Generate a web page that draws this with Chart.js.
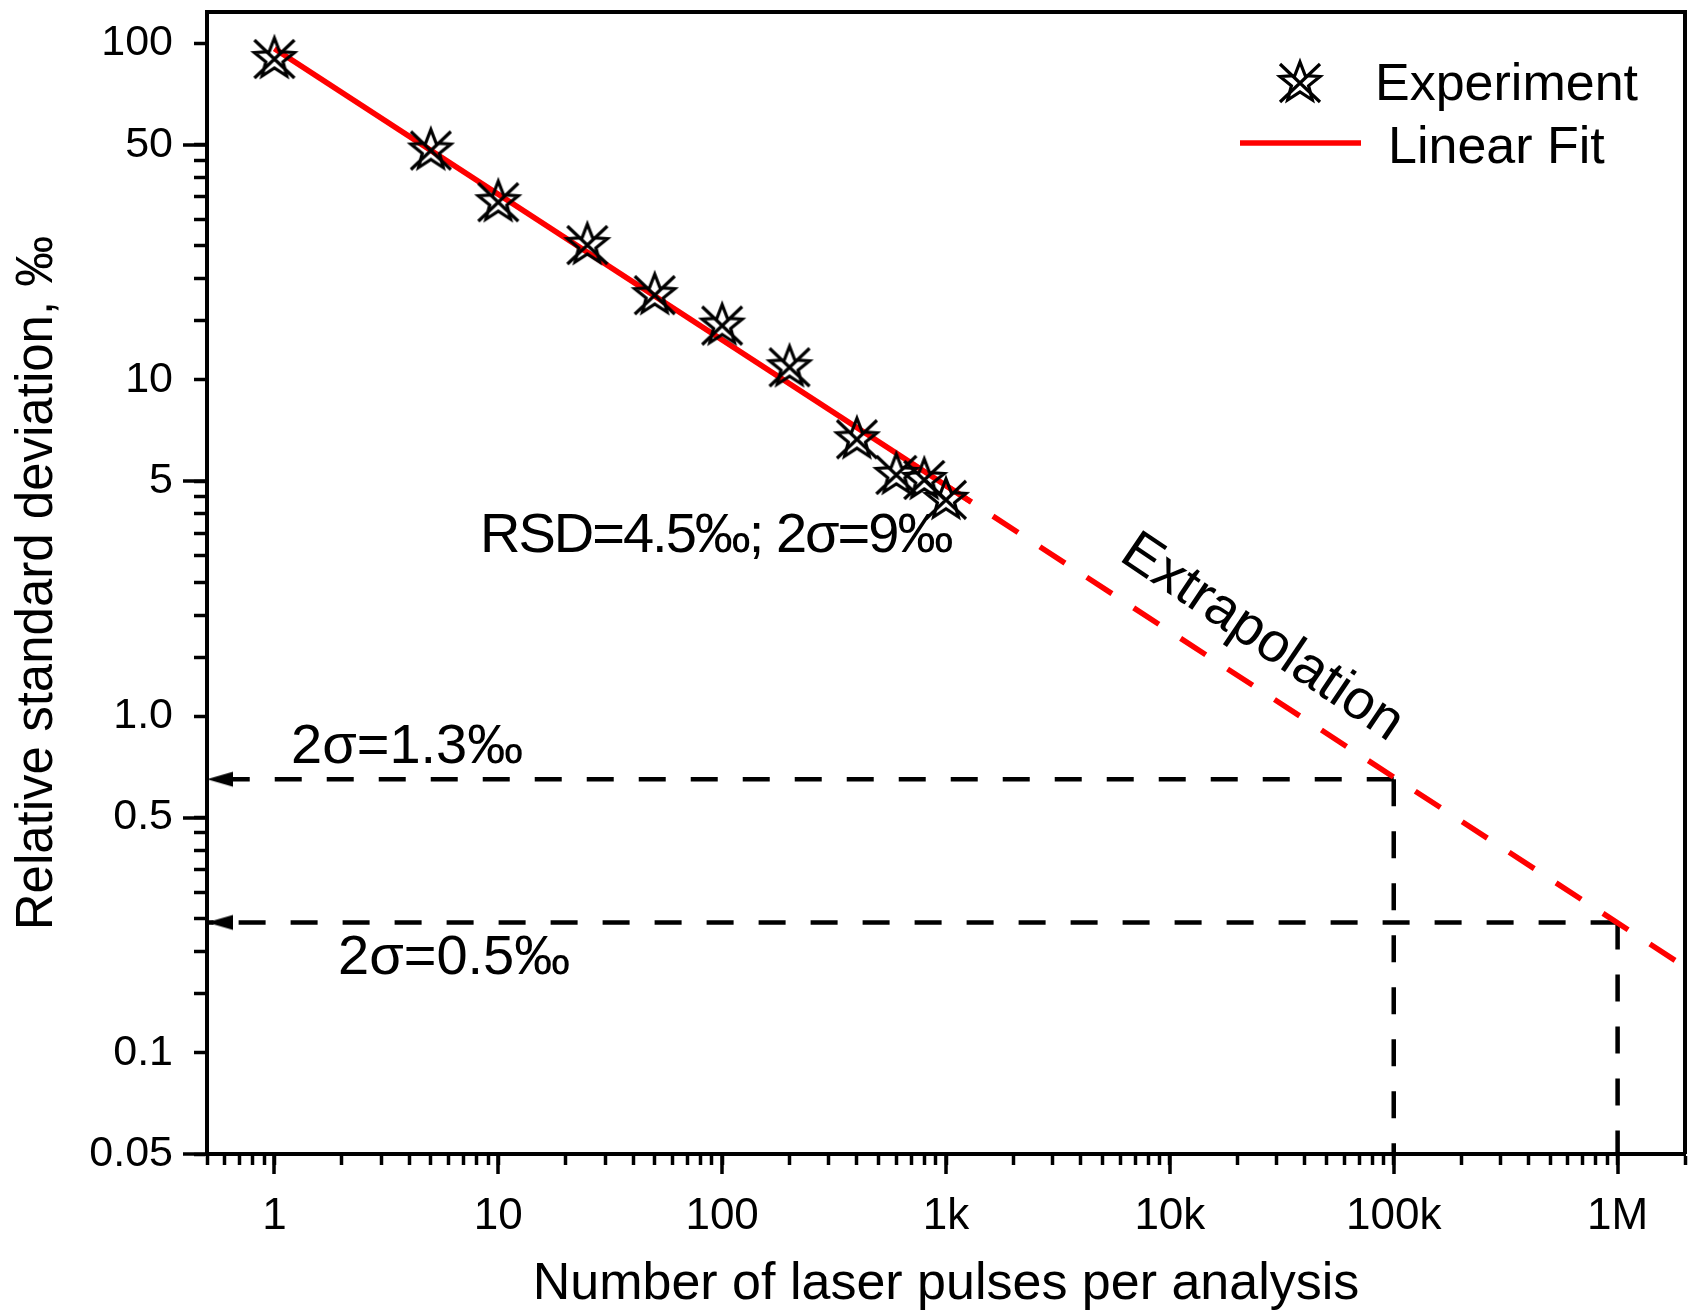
<!DOCTYPE html>
<html>
<head>
<meta charset="utf-8">
<script src="https://cdn.jsdelivr.net/npm/chart.js@4.4.0/dist/chart.umd.min.js"></script>
<style>
    html, body { margin: 0; padding: 0; background: #ffffff; }
    #wrap { width: 1691px; height: 1311px; }
</style>
</head>
<body>
<div id="wrap"><canvas id="rsdChart" width="1691" height="1311"></canvas></div>
<script>
const pulses = [1, 5, 10, 25, 50, 100, 200, 400, 600, 800, 1000];
const rsd = [91.1, 48.7, 34.2, 25.5, 18.1, 14.7, 11.05, 6.75, 5.29, 5.11, 4.46];

// Linear fit in log-log space: solid over the data, dashed extrapolation
const fitX = [1, 1300];
const fitY = [96.5, 4.33];
const extraX = [1000, 2000000];
const extraY = [4.85, 0.180];

// Guide lines: 2σ=1.3‰ (RSD 0.65) reached at 100k, 2σ=0.5‰ (RSD 0.244) at 1M
const guideX = [100000, 1000000];
const guideY = [0.65, 0.244];

const xRange = [0.5, 2000000];
const yRange = [0.05, 124];

// Axis ticks
const xMajor = [1, 10, 100, 1000, 10000, 100000, 1000000];
const xLabels = ['1', '10', '100', '1k', '10k', '100k', '1M'];
const yLabelVals = [100, 50, 10, 5, 1, 0.5, 0.1, 0.05];
const yLabels = ['100', '50', '10', '5', '1.0', '0.5', '0.1', '0.05'];
const yLong = [50, 5, 0.5, 0.05];
const yMinor = [45, 40, 35, 30, 25, 20, 15,
                4.5, 4, 3.5, 3, 2.5, 2, 1.5,
                0.45, 0.4, 0.35, 0.3, 0.25, 0.2, 0.15];

const RED = '#ff0000';
const FONT = '"Liberation Sans", Arial, sans-serif';

function xy(xs, ys) {
    return xs.map((x, i) => ({ x: x, y: ys[i] }));
}

// minor ticks 2..9 per decade on the x axis
function xMinorTicks() {
    const out = [];
    for (let d = 0.1; d <= 1000000; d *= 10) {
        for (let m = 2; m <= 9; m++) {
            const v = +(m * d).toPrecision(6);
            if (v >= xRange[0] && v <= xRange[1]) out.push(v);
        }
    }
    return out;
}

// star + cross marker used by Origin for "Experiment"
function makeStar() {
    const c = document.createElement('canvas');
    c.width = 50; c.height = 50;
    const g = c.getContext('2d');
    g.translate(25, 25);
    g.strokeStyle = '#000';
    g.lineWidth = 3.2;
    g.beginPath();
    for (let i = 0; i < 10; i++) {
        const r = i % 2 === 0 ? 21 : 9;
        const a = -Math.PI / 2 + i * Math.PI / 5;
        g.lineTo(r * Math.cos(a), r * Math.sin(a) + 2);
    }
    g.closePath();
    g.stroke();
    g.beginPath();
    g.moveTo(-20, -17); g.lineTo(20, 21);
    g.moveTo(20, -17); g.lineTo(-20, 21);
    g.stroke();
    return c;
}

// left-pointing arrow head, tip sits at the image centre
function makeArrow() {
    const c = document.createElement('canvas');
    c.width = 56; c.height = 18;
    const g = c.getContext('2d');
    g.fillStyle = '#000';
    g.beginPath();
    g.moveTo(28, 9);
    g.lineTo(54, 1.5);
    g.lineTo(54, 16.5);
    g.closePath();
    g.fill();
    return c;
}

const starImg = makeStar();
const arrowImg = makeArrow();

function guide(points) {
    return {
        data: points,
        showLine: true,
        borderColor: '#000',
        borderWidth: 4.5,
        borderDash: [27, 25],
        pointRadius: points.map((p, i) => (i === 1 && p.x === xRange[0] ? 3 : 0)),
        pointStyle: arrowImg
    };
}

const decorPlugin = {
    id: 'decor',
    beforeDatasetsDraw(chart) {
        const ctx = chart.ctx;
        const a = chart.chartArea;
        const xs = chart.scales.x;
        const ys = chart.scales.y;
        ctx.save();
        ctx.strokeStyle = '#000';
        ctx.lineWidth = 3.5;
        ctx.beginPath();
        xMajor.forEach(v => {
            const px = Math.round(xs.getPixelForValue(v));
            ctx.moveTo(px, a.bottom);
            ctx.lineTo(px, a.bottom + 20);
        });
        yLong.forEach(v => {
            const py = Math.round(ys.getPixelForValue(v));
            ctx.moveTo(a.left, py);
            ctx.lineTo(a.left - 24, py);
        });
        ctx.stroke();
        ctx.restore();
    },
    afterDatasetsDraw(chart) {
        const ctx = chart.ctx;
        const a = chart.chartArea;
        ctx.save();
        // frame top and right
        ctx.strokeStyle = '#000';
        ctx.lineWidth = 4;
        ctx.beginPath();
        ctx.moveTo(a.left, a.top);
        ctx.lineTo(a.right, a.top);
        ctx.lineTo(a.right, a.bottom);
        ctx.stroke();

        // annotations
        ctx.fillStyle = '#000';
        ctx.font = '56px ' + FONT;
        ctx.textBaseline = 'alphabetic';
        ctx.fillText('2σ=1.3‰', 291, 763);
        ctx.fillText('2σ=0.5‰', 338, 974);
        ctx.letterSpacing = '-2px';
        ctx.fillText('RSD=4.5‰; 2σ=9‰', 480, 552);
        ctx.letterSpacing = '0px';

        ctx.save();
        ctx.translate(1262, 638);
        ctx.rotate(34 * Math.PI / 180);
        ctx.textAlign = 'center';
        ctx.textBaseline = 'middle';
        ctx.fillText('Extrapolation', 0, 0);
        ctx.restore();

        // legend
        ctx.drawImage(starImg, 1300 - 25, 81 - 25);
        ctx.strokeStyle = RED;
        ctx.lineWidth = 5.5;
        ctx.beginPath();
        ctx.moveTo(1240, 143);
        ctx.lineTo(1361, 143);
        ctx.stroke();
        ctx.font = '52px ' + FONT;
        ctx.fillText('Experiment', 1375, 100);
        ctx.fillText('Linear Fit', 1388, 163);
        ctx.restore();
    }
};

const chart = new Chart(document.getElementById('rsdChart'), {
    type: 'scatter',
    data: {
        datasets: [
            {
                label: 'Experiment',
                data: xy(pulses, rsd),
                showLine: false,
                pointStyle: starImg,
                pointRadius: 3
            },
            {
                label: 'Linear Fit',
                data: xy(fitX, fitY),
                showLine: true,
                borderColor: RED,
                borderWidth: 5.5,
                pointRadius: 0
            },
            {
                label: 'Extrapolation',
                data: xy(extraX, extraY),
                showLine: true,
                borderColor: RED,
                borderWidth: 5.5,
                borderDash: [30, 26],
                pointRadius: 0
            },
            guide([{ x: guideX[0], y: guideY[0] }, { x: xRange[0], y: guideY[0] }]),
            guide([{ x: guideX[0], y: guideY[0] }, { x: guideX[0], y: yRange[0] }]),
            guide([{ x: guideX[1], y: guideY[1] }, { x: xRange[0], y: guideY[1] }]),
            guide([{ x: guideX[1], y: guideY[1] }, { x: guideX[1], y: yRange[0] }])
        ]
    },
    options: {
        responsive: false,
        animation: false,
        layout: {
            autoPadding: false,
            padding: { top: 12, right: 6, left: 0, bottom: 0 }
        },
        plugins: {
            legend: { display: false },
            tooltip: { enabled: false }
        },
        scales: {
            x: {
                type: 'logarithmic',
                min: xRange[0],
                max: xRange[1],
                border: { display: true, color: '#000', width: 4 },
                grid: {
                    drawOnChartArea: false,
                    drawTicks: true,
                    tickLength: 11,
                    tickWidth: 3.5,
                    tickColor: '#000'
                },
                afterBuildTicks: s => {
                    s.ticks = xMajor.concat(xMinorTicks())
                        .sort((p, q) => p - q)
                        .map(v => ({ value: v }));
                },
                ticks: {
                    autoSkip: false,
                    maxRotation: 0,
                    padding: 25,
                    color: '#000',
                    font: { family: FONT, size: 44 },
                    callback: v => {
                        const i = xMajor.indexOf(v);
                        return i >= 0 ? xLabels[i] : '';
                    }
                },
                title: {
                    display: true,
                    text: 'Number of laser pulses per analysis',
                    color: '#000',
                    font: { family: FONT, size: 52, lineHeight: 1.0 },
                    padding: { top: 0, bottom: 0 }
                },
                afterFit: s => {
                    s.height = 157;
                    s.paddingLeft = 0;
                    s.paddingRight = 0;
                }
            },
            y: {
                type: 'logarithmic',
                min: yRange[0],
                max: yRange[1],
                border: { display: true, color: '#000', width: 4 },
                grid: {
                    drawOnChartArea: false,
                    drawTicks: true,
                    tickLength: 13,
                    tickWidth: 3.5,
                    tickColor: '#000'
                },
                afterBuildTicks: s => {
                    s.ticks = yLabelVals.concat(yMinor)
                        .sort((p, q) => p - q)
                        .map(v => ({ value: v }));
                },
                ticks: {
                    autoSkip: false,
                    padding: 21,
                    color: '#000',
                    font: { family: FONT, size: 43 },
                    callback: v => {
                        const i = yLabelVals.indexOf(v);
                        return i >= 0 ? yLabels[i] : '';
                    }
                },
                title: {
                    display: true,
                    text: 'Relative standard deviation, ‰',
                    color: '#000',
                    font: { family: FONT, size: 51, lineHeight: 1.2 },
                    padding: { top: 7, bottom: 0 }
                },
                afterFit: s => {
                    s.width = 207;
                    s.paddingTop = 0;
                    s.paddingBottom = 0;
                }
            }
        }
    },
    plugins: [decorPlugin]
});
</script>
</body>
</html>
